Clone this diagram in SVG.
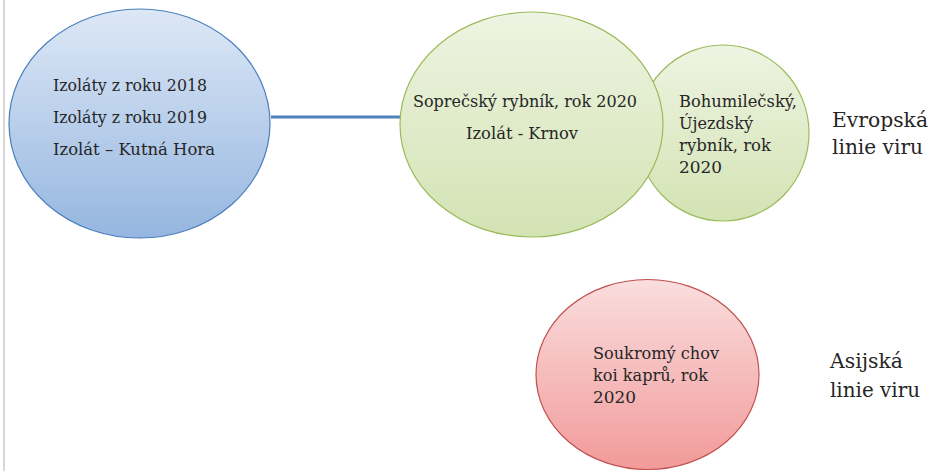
<svg xmlns="http://www.w3.org/2000/svg" width="931" height="471" viewBox="0 0 931 471">
<defs>
<linearGradient id="gBlue" x1="0" y1="0" x2="0" y2="1"><stop offset="0" stop-color="#dde8f6"/><stop offset="1" stop-color="#95b6e0"/></linearGradient>
<linearGradient id="gGreen" x1="0" y1="0" x2="0" y2="1"><stop offset="0" stop-color="#eef4e2"/><stop offset="1" stop-color="#d3e3b3"/></linearGradient>
<linearGradient id="gRed" x1="0" y1="0" x2="0" y2="1"><stop offset="0" stop-color="#fadede"/><stop offset="1" stop-color="#f29a9a"/></linearGradient>
<style>
.blue{fill:url(#gBlue);stroke:#4a7ebb;stroke-width:1.2}
.green{fill:url(#gGreen);stroke:#9bbb59;stroke-width:1.2}
.red{fill:url(#gRed);stroke:#c0504d;stroke-width:1.2}
</style>
</defs>
<line x1="4" y1="0" x2="4" y2="471" stroke="#b0b0b0" stroke-width="1"/>
<g id="connectors">
<line x1="271" y1="117" x2="401" y2="117" stroke="#4f81bd" stroke-width="3"/>
</g>
<g font-family="'DejaVu Serif', 'Liberation Serif', serif" fill="#262626">
<g id="node-blue" font-size="17">
<ellipse class="blue" cx="139.5" cy="123.5" rx="130.5" ry="114.5"/>
<text x="53" y="91" textLength="154" lengthAdjust="spacingAndGlyphs">Izoláty z roku 2018</text>
<text x="53" y="123" textLength="154" lengthAdjust="spacingAndGlyphs">Izoláty z roku 2019</text>
<text x="53" y="155" textLength="162" lengthAdjust="spacingAndGlyphs">Izolát – Kutná Hora</text>
</g>
<g id="node-bohumilecsky" font-size="17">
<ellipse class="green" cx="723" cy="133" rx="86" ry="88"/>
<text x="679" y="107" textLength="118" lengthAdjust="spacingAndGlyphs">Bohumilečský,</text>
<text x="679" y="129" textLength="74" lengthAdjust="spacingAndGlyphs">Újezdský</text>
<text x="679" y="151" textLength="92" lengthAdjust="spacingAndGlyphs">rybník, rok</text>
<text x="679" y="173" textLength="43" lengthAdjust="spacingAndGlyphs">2020</text>
</g>
<g id="node-soprecsky" font-size="17">
<ellipse class="green" cx="531.5" cy="124.5" rx="131.5" ry="112.5"/>
<text x="413" y="107" textLength="224" lengthAdjust="spacingAndGlyphs">Soprečský rybník, rok 2020</text>
<text x="466" y="139" textLength="112" lengthAdjust="spacingAndGlyphs">Izolát - Krnov</text>
</g>
<g id="node-koi" font-size="17">
<ellipse class="red" cx="647.5" cy="374.5" rx="111.5" ry="95"/>
<text x="593" y="359" textLength="126" lengthAdjust="spacingAndGlyphs">Soukromý chov</text>
<text x="593" y="381" textLength="115" lengthAdjust="spacingAndGlyphs">koi kaprů, rok</text>
<text x="593" y="403" textLength="43" lengthAdjust="spacingAndGlyphs">2020</text>
</g>
<g id="label-evropska" font-size="21">
<text x="832" y="127" textLength="96" lengthAdjust="spacingAndGlyphs">Evropská</text>
<text x="832" y="154" textLength="91" lengthAdjust="spacingAndGlyphs">linie viru</text>
</g>
<g id="label-asijska" font-size="21">
<text x="830" y="368" textLength="73" lengthAdjust="spacingAndGlyphs">Asijská</text>
<text x="830" y="397" textLength="90" lengthAdjust="spacingAndGlyphs">linie viru</text>
</g>
</g>
</svg>
